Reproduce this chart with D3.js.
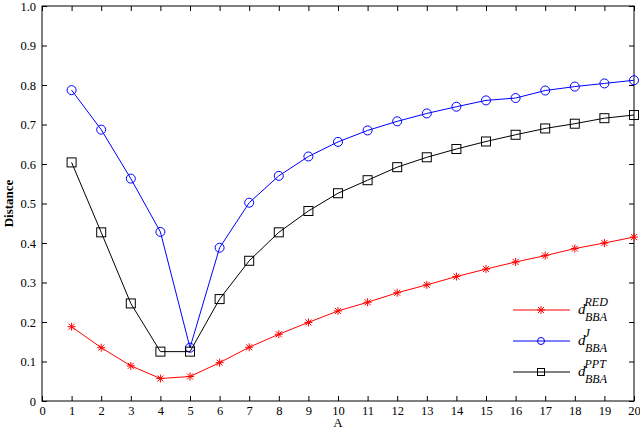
<!DOCTYPE html>
<meta charset="utf-8">
<script src="https://cdn.jsdelivr.net/npm/d3@7"></script>
<style>
  body { margin: 0; background: #fff; }
  text { font-family: "Liberation Serif", serif; }
</style>
<svg id="chart" width="640" height="432"></svg>
<script>
  // data
  var xs = d3.range(1, 21);
  var red = [0.188, 0.135, 0.089, 0.057, 0.062, 0.097, 0.136, 0.169, 0.199, 0.228,
    0.250, 0.274, 0.294, 0.315, 0.334, 0.352, 0.368, 0.386, 0.400, 0.415];
  var blue = [0.787, 0.687, 0.563, 0.428, 0.135, 0.388, 0.502, 0.570, 0.619, 0.656,
    0.685, 0.708, 0.728, 0.745, 0.761, 0.767, 0.786, 0.796, 0.804, 0.812];
  var black = [0.604, 0.427, 0.247, 0.125, 0.125, 0.258, 0.355, 0.427, 0.481, 0.526,
    0.559, 0.592, 0.617, 0.638, 0.657, 0.674, 0.690, 0.702, 0.716, 0.724];
  var xTicks = d3.range(0, 21);
  var yTicks = d3.range(0, 11).map(function (i) { return i / 10; });

  var margin = { top: 6, right: 6, bottom: 31, left: 42 },
    width = 640 - margin.left - margin.right,
    height = 432 - margin.top - margin.bottom;

  var svg = d3.select("#chart");
  var g = svg.append("g").attr("transform", "translate(" + margin.left + "," + margin.top + ")");

  var x = d3.scaleLinear().domain([0, 20]).range([0, width]);
  var y = d3.scaleLinear().domain([0, 1]).range([height, 0]);

  function styleAxis(a) {
    a.select(".domain").remove();
    a.selectAll("line").attr("stroke", "#000");
    a.selectAll("text").attr("font-size", 12.5).attr("font-family", "Liberation Serif, serif");
  }

  g.append("g").attr("transform", "translate(0," + height + ")")
    .call(d3.axisBottom(x).tickValues(xTicks).tickSize(-5).tickPadding(5).tickFormat(d3.format("d")))
    .call(styleAxis);
  g.append("g").call(d3.axisTop(x).tickValues(xTicks).tickSize(-5).tickFormat(""))
    .call(styleAxis);
  g.append("g")
    .call(d3.axisLeft(y).tickValues(yTicks).tickSize(-5).tickPadding(6)
      .tickFormat(function (d) { return d === 0 ? "0" : d3.format(".1f")(d); }))
    .call(styleAxis);
  g.append("g").attr("transform", "translate(" + width + ",0)")
    .call(d3.axisRight(y).tickValues(yTicks).tickSize(-5).tickFormat(""))
    .call(styleAxis);

  g.append("rect").attr("width", width).attr("height", height)
    .attr("fill", "none").attr("stroke", "#000").attr("stroke-width", 1);

  g.append("text").attr("x", x(10)).attr("y", height + 26).attr("text-anchor", "middle")
    .attr("font-size", 13).text("A");
  g.append("text").attr("transform", "translate(-29," + (height / 2) + ") rotate(-90)")
    .attr("text-anchor", "middle").attr("font-size", 13).attr("font-weight", "bold").text("Distance");

  var series = [
    { vals: red, color: "#ff0000", mark: "star", sup: "RED" },
    { vals: blue, color: "#0000ff", mark: "circle", sup: "J" },
    { vals: black, color: "#000000", mark: "square", sup: "PPT" }
  ];

  var line = d3.line().x(function (d) { return x(d.x); }).y(function (d) { return y(d.y); });

  function drawMark(sel, m, color, r) {
    if (m === "circle") {
      sel.append("circle").attr("r", r).attr("fill", "none").attr("stroke", color);
    } else if (m === "square") {
      sel.append("rect").attr("x", -r).attr("y", -r).attr("width", 2 * r).attr("height", 2 * r)
        .attr("fill", "none").attr("stroke", color);
    } else {
      sel.append("path").attr("d", "M-4,0H4M0,-4V4M-3,-3L3,3M-3,3L3,-3")
        .attr("stroke", color).attr("stroke-width", 1);
    }
  }

  series.forEach(function (s) {
    var pts = xs.map(function (v, i) { return { x: v, y: s.vals[i] }; });
    g.append("path").datum(pts).attr("d", line)
      .attr("fill", "none").attr("stroke", s.color).attr("stroke-width", 1);
    g.selectAll(null).data(pts).enter().append("g")
      .attr("transform", function (d) { return "translate(" + x(d.x) + "," + y(d.y) + ")"; })
      .each(function () { drawMark(d3.select(this), s.mark, s.color, 4.5); });
  });

  // legend
  var leg = svg.append("g").attr("transform", "translate(513,310)");
  series.forEach(function (s, i) {
    var row = leg.append("g").attr("transform", "translate(0," + (i * 31) + ")");
    row.append("line").attr("x1", 0).attr("x2", 57).attr("stroke", s.color);
    drawMark(row.append("g").attr("transform", "translate(28,0)"), s.mark, s.color, 3.5);
    var t = row.append("text").attr("x", 65).attr("y", 4).attr("font-size", 15).attr("font-style", "italic");
    t.append("tspan").text("d");
    t.append("tspan").attr("font-size", 12).attr("dx", -1).attr("dy", -8).text(s.sup);
    t.append("tspan").attr("font-size", 12).attr("x", 72).attr("dy", 15).text("BBA");
  });
</script>
